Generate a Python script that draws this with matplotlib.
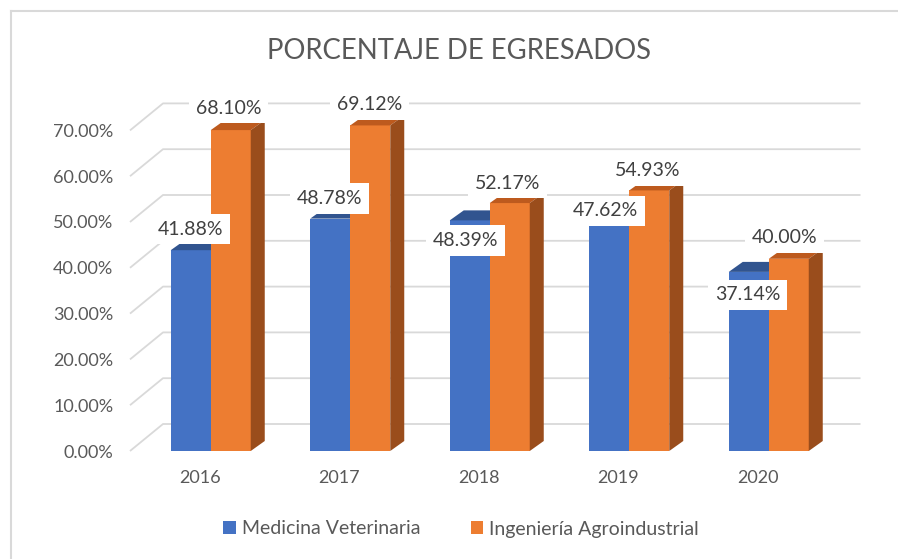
import matplotlib
matplotlib.use("Agg")
import matplotlib.pyplot as plt
from matplotlib.patches import Polygon, Patch
from matplotlib.lines import Line2D

# data
years = ["2016", "2017", "2018", "2019", "2020"]
medicina = [41.88, 48.78, 48.39, 47.62, 37.14]
ingenieria = [68.10, 69.12, 52.17, 54.93, 40.00]
series_names = ["Medicina Veterinaria", "Ingeniería Agroindustrial"]
y_ticks = [0, 10, 20, 30, 40, 50, 60, 70]

# label nudges in pixels (Excel moved some of them)
blue_label_off = [(0, 21), (-1, 20), (-4, -20), (-4, 13), (-1, -23)]
orange_label_off = [(-2, 22), (-1, 21), (-2, 20), (-2, 20), (-4, 21)]

BLUE = "#4472C4"
BLUE_TOP = "#31548F"
ORANGE = "#ED7D31"
ORANGE_TOP = "#BD5A1E"
ORANGE_SIDE = "#9A4D1C"
GRID = "#D9D9D9"
TXT = "#595959"

plt.rcParams["font.family"] = ["Lato", "DejaVu Sans"]

W, H = 898, 559
fig = plt.figure(figsize=(W / 100, H / 100), dpi=100)

# front edge of the floor, in pixels
x_left, x_right = 130, 827.5
y_zero, y_top = 451, 130.4
ax = fig.add_axes([x_left / W, 1 - y_zero / H,
                   (x_right - x_left) / W, (y_zero - y_top) / H])
n = len(years)
ax.set_xlim(0, n)
ax.set_ylim(0, 70)

px_x = (x_right - x_left) / n       # pixels per category
px_y = (y_zero - y_top) / 70        # pixels per percent


def off(dx, dy):
    return dx / px_x, dy / px_y


fx, fy = off(11, 9)     # bar front face depth
sx, sy = off(14, 10)    # bar depth
bx, by = off(33, 27)    # back wall

# back wall grid
for v in y_ticks:
    ax.plot([0, bx, n + bx], [v, v + by, v + by], color=GRID, lw=1.3,
            clip_on=False, zorder=1, solid_capstyle="butt")

bw = 40 / px_x


def draw_bar(x0, v, front, top, side):
    ax.add_patch(Polygon([(x0, 0), (x0 + bw, 0), (x0 + bw, v), (x0, v)],
                         closed=True, facecolor=front, edgecolor="none",
                         clip_on=False, zorder=3))
    ax.add_patch(Polygon([(x0, v), (x0 + bw, v), (x0 + bw + sx, v + sy),
                          (x0 + sx, v + sy)],
                         closed=True, facecolor=top, edgecolor="none",
                         clip_on=False, zorder=3))
    if side is not None:
        ax.add_patch(Polygon([(x0 + bw, 0), (x0 + bw + sx, sy),
                              (x0 + bw + sx, v + sy), (x0 + bw, v)],
                             closed=True, facecolor=side, edgecolor="none",
                             clip_on=False, zorder=3))


for i in range(n):
    xc = i + 0.5 + fx
    draw_bar(xc - bw, medicina[i] + fy, BLUE, BLUE_TOP, None)
    draw_bar(xc, ingenieria[i] + fy, ORANGE, ORANGE_TOP, ORANGE_SIDE)

    for val, x0, (ox, oy) in [(medicina[i], xc - bw / 2, blue_label_off[i]),
                              (ingenieria[i], xc + bw / 2, orange_label_off[i])]:
        ax.annotate(f"{val:.2f}%", (x0, val + fy), xytext=(ox * 0.72, oy * 0.72),
                    textcoords="offset points", ha="center", va="center",
                    fontsize=14, color="#404040", zorder=5,
                    bbox=dict(boxstyle="square,pad=0.35", fc="white", ec="none"),
                    annotation_clip=False)

for s in ax.spines.values():
    s.set_visible(False)
ax.set_yticks(y_ticks)
ax.set_yticklabels([f"{v:.2f}%" for v in y_ticks])
ax.set_xticks([i + 0.5 for i in range(n)])
ax.set_xticklabels(years)
ax.tick_params(length=0, labelsize=13, labelcolor=TXT)
ax.tick_params(axis="y", pad=12)
ax.tick_params(axis="x", pad=14)
ax.set_facecolor("none")

fig.text(459 / W, 1 - 51 / H, "PORCENTAJE DE EGRESADOS", ha="center",
         va="center", fontsize=19.8, color=TXT)

handles = [Patch(facecolor=BLUE), Patch(facecolor=ORANGE)]
fig.legend(handles, series_names, loc="center", ncol=2, frameon=False,
           bbox_to_anchor=(461 / W, 30 / H), fontsize=14, labelcolor=TXT,
           handlelength=0.65, handleheight=0.65, handletextpad=0.3,
           columnspacing=2.6)

# chart border (cut off on the right and bottom)
fig.add_artist(Line2D([11 / W, 11 / W], [0, 1 - 11 / H], color=GRID, lw=1.5))
fig.add_artist(Line2D([11 / W, 1], [1 - 11 / H, 1 - 11 / H], color=GRID, lw=1.5))

fig.savefig("out.png", dpi=100)
